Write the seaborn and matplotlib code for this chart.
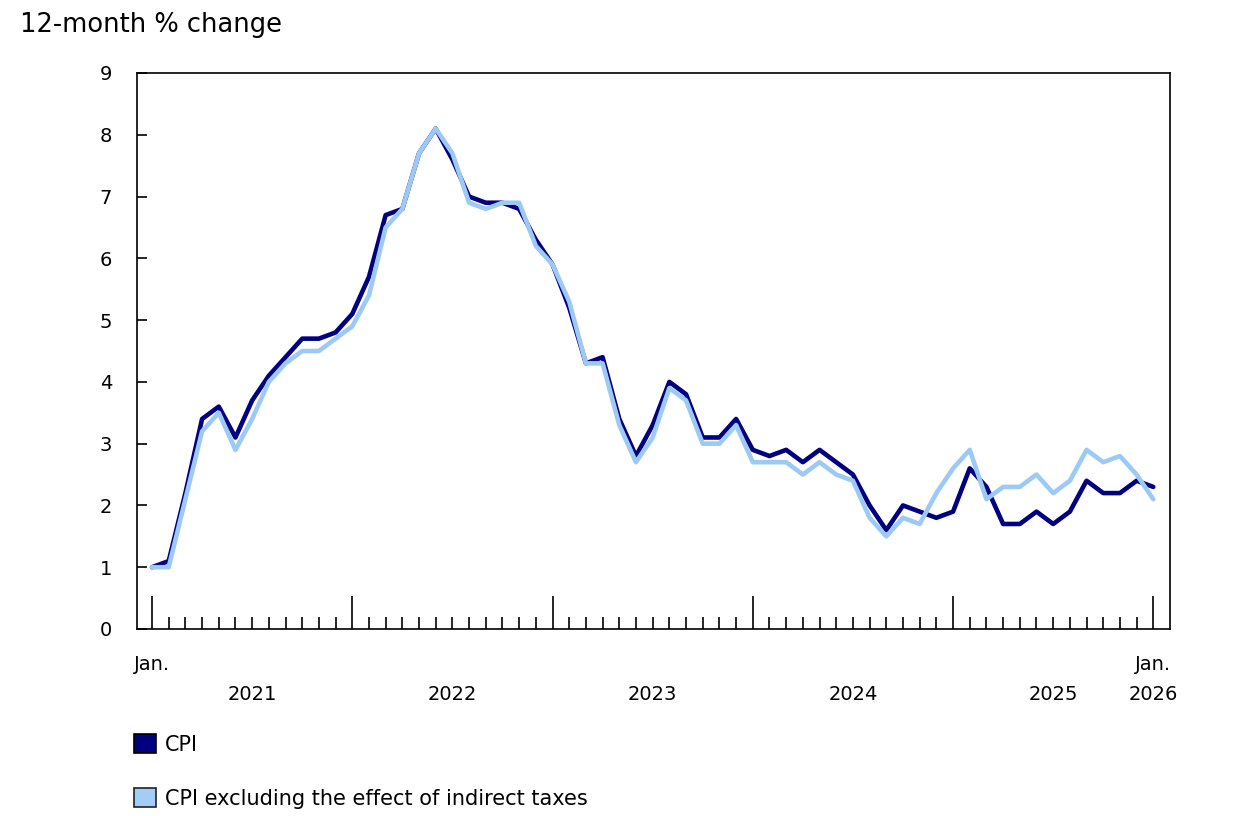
import numpy as np
import pandas as pd
import matplotlib
matplotlib.use("Agg")
import matplotlib.pyplot as plt
from matplotlib.patches import Patch
from matplotlib.ticker import FixedLocator
import seaborn as sns

# ---- data ----
months = pd.date_range("2021-01-01", periods=61, freq="MS")
cpi = [1.0, 1.1, 2.2, 3.4, 3.6, 3.1, 3.7, 4.1, 4.4, 4.7, 4.7, 4.8,
       5.1, 5.7, 6.7, 6.8, 7.7, 8.1, 7.6, 7.0, 6.9, 6.9, 6.8, 6.3,
       5.9, 5.2, 4.3, 4.4, 3.4, 2.8, 3.3, 4.0, 3.8, 3.1, 3.1, 3.4,
       2.9, 2.8, 2.9, 2.7, 2.9, 2.7, 2.5, 2.0, 1.6, 2.0, 1.9, 1.8,
       1.9, 2.6, 2.3, 1.7, 1.7, 1.9, 1.7, 1.9, 2.4, 2.2, 2.2, 2.4,
       2.3]
cpi_excl_taxes = [1.0, 1.0, 2.1, 3.2, 3.5, 2.9, 3.4, 4.0, 4.3, 4.5, 4.5, 4.7,
                  4.9, 5.4, 6.5, 6.8, 7.7, 8.1, 7.7, 6.9, 6.8, 6.9, 6.9, 6.2,
                  5.9, 5.3, 4.3, 4.3, 3.3, 2.7, 3.1, 3.9, 3.7, 3.0, 3.0, 3.3,
                  2.7, 2.7, 2.7, 2.5, 2.7, 2.5, 2.4, 1.8, 1.5, 1.8, 1.7, 2.2,
                  2.6, 2.9, 2.1, 2.3, 2.3, 2.5, 2.2, 2.4, 2.9, 2.7, 2.8, 2.5,
                  2.1]
series_names = ["CPI", "CPI excluding the effect of indirect taxes"]
colors = ["#000080", "#9ccaf5"]
y_ticks = [0, 1, 2, 3, 4, 5, 6, 7, 8, 9]
year_labels = ["2021", "2022", "2023", "2024", "2025"]
title = "12-month % change"

idx = np.arange(len(months))
df = pd.DataFrame({
    "idx": np.concatenate([idx, idx]),
    "value": cpi + cpi_excl_taxes,
    "series": [series_names[0]] * len(idx) + [series_names[1]] * len(idx),
})

sns.set_theme(style="white")
plt.rcParams["font.family"] = ["DejaVu Sans"]
plt.rcParams["text.color"] = "black"
plt.rcParams["xtick.color"] = "black"
plt.rcParams["ytick.color"] = "black"

fig = plt.figure(figsize=(12.4, 8.16), dpi=100)
ax = fig.add_axes([137 / 1240, 1 - 629 / 816, (1170 - 137) / 1240, (629 - 73) / 816])

sns.lineplot(data=df, x="idx", y="value", hue="series", hue_order=series_names,
             palette=colors, linewidth=3.3, ax=ax, legend=False)

ax.set_xlim(-0.9, 61.0)
ax.set_ylim(0, 9)
ax.set_xlabel("")
ax.set_ylabel("")

for s in ax.spines.values():
    s.set_visible(True)
    s.set_color("black")
    s.set_linewidth(1.2)

ax.set_yticks(y_ticks)
ax.set_yticklabels([str(v) for v in y_ticks])
ax.tick_params(axis="y", direction="in", length=7, width=1.2, color="black",
               labelsize=14, pad=18, left=True, labelcolor="black")

jan_idx = [i for i, m in enumerate(months) if m.month == 1]
other_idx = [i for i, m in enumerate(months) if m.month != 1]
ax.xaxis.set_major_locator(FixedLocator(jan_idx))
ax.xaxis.set_minor_locator(FixedLocator(other_idx))
ax.tick_params(axis="x", which="major", direction="in", length=24, width=1.2,
               color="black", bottom=True, labelbottom=False)
ax.tick_params(axis="x", which="minor", direction="in", length=9, width=1.2,
               color="black", bottom=True)

tr = ax.get_xaxis_transform()
ax.text(jan_idx[0], -0.0647, "Jan.", transform=tr, ha="center", va="center",
        fontsize=14, color="black")
ax.text(jan_idx[-1], -0.0647, "Jan.", transform=tr, ha="center", va="center",
        fontsize=14, color="black")
for k, lab in enumerate(year_labels):
    ax.text(jan_idx[k] + 6, -0.1187, lab, transform=tr, ha="center", va="center",
            fontsize=14, color="black")
ax.text(jan_idx[-1], -0.1187, str(months[-1].year), transform=tr, ha="center",
        va="center", fontsize=14, color="black")

fig.text(20 / 1240, 1 - 32 / 816, title, ha="left", va="baseline",
         fontsize=18.5, color="black")

handles = [Patch(facecolor=colors[0], edgecolor="black", linewidth=1.2),
           Patch(facecolor="#a3cdf5", edgecolor="#222222", linewidth=1.2)]
leg = fig.legend(handles, series_names, loc="upper left",
                 bbox_to_anchor=(134 / 1240, 1 - 734 / 816), frameon=False,
                 borderpad=0, borderaxespad=0, handlelength=1.05, handleheight=1.05,
                 handletextpad=0.45, labelspacing=1.6, fontsize=15)
for t in leg.get_texts():
    t.set_color("black")

fig.savefig("out.png", dpi=100, facecolor="white")
